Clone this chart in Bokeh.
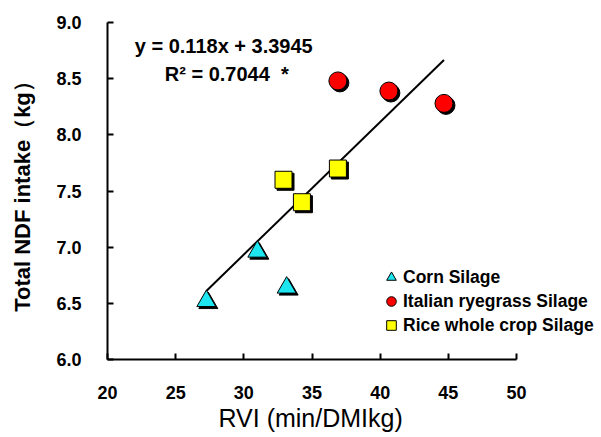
from bokeh.plotting import figure
from bokeh.models import Range1d, FixedTicker, Legend, LegendItem, Label, Title
from bokeh.embed import file_html
from bokeh.resources import INLINE

# ---- data ----
corn_x = [27.25, 30.99, 33.14]
corn_y = [6.52, 6.96, 6.64]
italian_x = [36.90, 40.64, 44.68]
italian_y = [8.48, 8.39, 8.28]
rice_x = [32.91, 34.26, 36.90]
rice_y = [7.60, 7.40, 7.70]

series_names = ["Corn Silage", "Italian ryegrass Silage", "Rice whole crop Silage"]
slope = 0.118
intercept = 3.3945
eq_text = "y = 0.118x + 3.3945"
r2_text = "R\u00b2 = 0.7044\u00a0\u00a0*"

x_ticks = [20, 25, 30, 35, 40, 45, 50]
x_tick_labels = ["20", "25", "30", "35", "40", "45", "50"]
y_ticks = [6.0, 6.5, 7.0, 7.5, 8.0, 8.5, 9.0]
y_tick_labels = ["6.0", "6.5", "7.0", "7.5", "8.0", "8.5", "9.0"]

x_title = "RVI (min/DMIkg)"
y_title = "Total NDF intake\uff08kg\uff09"

# ---- layout ----
W, H = 601, 437
BL, BR, BT, BB = 107, 2, 22, 78
AXIS_W = 409            # pixel length of the drawn x axis (20..50)
XMIN, XMAX, YMIN, YMAX = 20, 50, 6, 9
FONT = "Liberation Sans"

px_per_x = AXIS_W / (XMAX - XMIN)
frame_w = W - BL - BR
frame_h = H - BT - BB
x_end = XMIN + frame_w / px_per_x

p = figure(width=W, height=H, output_backend="svg", toolbar_location=None,
           x_range=Range1d(XMIN, x_end), y_range=Range1d(YMIN, YMAX),
           min_border_left=BL, min_border_right=BR, min_border_top=BT, min_border_bottom=BB)
p.outline_line_color = None
p.grid.visible = False
p.background_fill_color = "white"
p.border_fill_color = "white"

# shadow offset (2 px right, 2 px down) in data units
dx = 2.0 / px_per_x
dy = 2.0 * (YMAX - YMIN) / frame_h

# regression line across the data range
all_x = corn_x + italian_x + rice_x
lx = [min(all_x), max(all_x)]
ly = [slope * v + intercept for v in lx]
p.line(lx, ly, line_color="black", line_width=2)

CYAN = "#1EE6F0"
RED = "#FF0000"
YELLOW = "#FFFF00"

def shadowed(xs, ys, marker, size, color):
    p.scatter([v + dx for v in xs], [v - dy for v in ys], marker=marker, size=size,
              fill_color="black", line_color="black", line_width=1)
    return p.scatter(xs, ys, marker=marker, size=size, fill_color=color,
                     line_color="black", line_width=1)

r_corn = shadowed(corn_x, corn_y, "triangle", 19, CYAN)
r_rice = shadowed(rice_x, rice_y, "square", 17, YELLOW)
r_ital = shadowed(italian_x, italian_y, "circle", 18, RED)

# axes
for ax in (p.xaxis[0], p.yaxis[0]):
    ax.axis_line_width = 2
    ax.axis_line_color = "black"
    ax.major_tick_line_width = 2
    ax.major_tick_line_color = "black"
    ax.major_tick_in = 6
    ax.major_tick_out = 0
    ax.minor_tick_line_color = None
    ax.major_label_text_font = FONT
    ax.major_label_text_font_style = "bold"
    ax.major_label_text_font_size = "18px"
    ax.major_label_text_color = "black"
    ax.axis_label_text_color = "black"
    ax.axis_label_text_font = FONT

p.xaxis.ticker = FixedTicker(ticks=x_ticks)
p.xaxis.bounds = (XMIN, XMAX)
p.xaxis.major_label_overrides = dict(zip(x_ticks, x_tick_labels))
p.yaxis.ticker = FixedTicker(ticks=y_ticks)
p.yaxis.major_label_overrides = dict(zip(y_ticks, y_tick_labels))
p.xaxis.major_label_standoff = 26
p.yaxis.major_label_standoff = 26

p.yaxis.axis_label = y_title
p.yaxis.axis_label_text_font_size = "22px"
p.yaxis.axis_label_text_font_style = "bold"
p.yaxis.axis_label_standoff = 18

# x-axis title, centred under the drawn axis
xt = Title(text=x_title, align="left", offset=111, standoff=0,
           text_font=FONT, text_font_size="25px", text_font_style="normal",
           text_color="black")
p.add_layout(xt, "below")

# equation text
p.add_layout(Label(x=22.0, y=8.79, text=eq_text, text_font=FONT, text_font_style="bold",
                   text_font_size="20px", text_baseline="middle", text_align="left",
                   text_color="black"))
p.add_layout(Label(x=24.2, y=8.545, text=r2_text, text_font=FONT, text_font_style="bold",
                   text_font_size="20px", text_baseline="middle", text_align="left",
                   text_color="black"))

legend = Legend(items=[LegendItem(label=series_names[0], renderers=[r_corn]),
                       LegendItem(label=series_names[1], renderers=[r_ital]),
                       LegendItem(label=series_names[2], renderers=[r_rice])],
                location=(272, 22))
legend.background_fill_alpha = 0
legend.border_line_color = None
legend.padding = 0
legend.margin = 0
legend.spacing = 0
legend.glyph_width = 24
legend.glyph_height = 24
legend.label_height = 20
legend.label_standoff = 0
legend.label_text_font = FONT
legend.label_text_font_style = "bold"
legend.label_text_font_size = "17.5px"
legend.label_text_color = "black"
p.add_layout(legend, "center")

open("out.html", "w").write(file_html(p, INLINE))
